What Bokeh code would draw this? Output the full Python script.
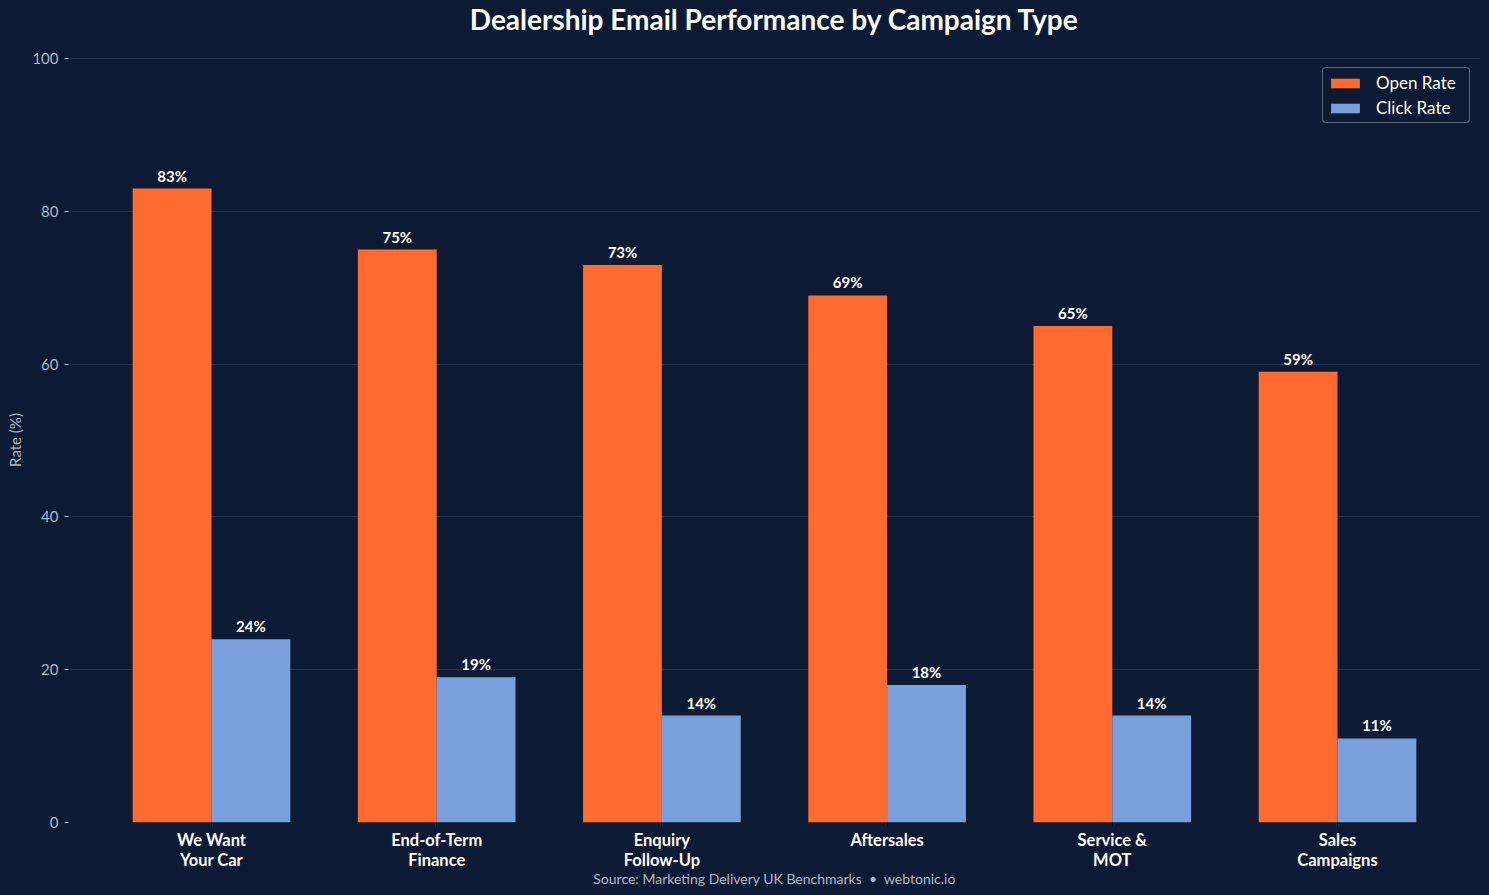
from bokeh.plotting import figure
from bokeh.models import ColumnDataSource, Range1d, FixedTicker, Legend, LegendItem, LabelSet, Title
from bokeh.core.properties import value
from bokeh.embed import file_html
from bokeh.resources import INLINE

categories = ["We Want\nYour Car", "End-of-Term\nFinance", "Enquiry\nFollow-Up", "Aftersales", "Service &\nMOT", "Sales\nCampaigns"]
open_rate = [83, 75, 73, 69, 65, 59]
click_rate = [24, 19, 14, 18, 14, 11]
y_ticks = [0, 20, 40, 60, 80, 100]

BG = "#0c1b33"
ORANGE = "#ff6b2e"
BLUE = "#7aa0db"
FONT = "Lato"
W = 0.35

idx = list(range(len(categories)))
src_o = ColumnDataSource(dict(x=[i - W / 2 for i in idx], y=open_rate, lab=[f"{v}%" for v in open_rate]))
src_c = ColumnDataSource(dict(x=[i + W / 2 for i in idx], y=click_rate, lab=[f"{v}%" for v in click_rate]))

p = figure(width=1489, height=895, output_backend="svg", toolbar_location=None,
           x_range=Range1d(-0.635, 5.635), y_range=Range1d(0, 100.15),
           background_fill_color=BG, border_fill_color=BG,
           min_border_left=68, min_border_right=9, min_border_top=57, min_border_bottom=73)
p.outline_line_color = None
p.outline_line_alpha = 0
p.styles = {"background-color": BG}

p.title.text = "Dealership Email Performance by Campaign Type"
p.title.align = "center"
p.title.vertical_align = "top"
p.title.text_font = FONT
p.title.text_font_size = "28px"
p.title.text_font_style = "bold"
p.title.text_color = "#ffffff"
p.title.standoff = 0

# spacer between title and plot frame
p.add_layout(Title(text=" ", text_font_size="10px", standoff=7, text_color=BG), "above")

r_o = p.vbar(x="x", top="y", width=W, source=src_o, fill_color=ORANGE, line_color=None)
r_c = p.vbar(x="x", top="y", width=W, source=src_c, fill_color=BLUE, line_color=None)

for s in (src_o, src_c):
    p.add_layout(LabelSet(x="x", y="y", text="lab", source=s, text_align="center", text_baseline="bottom",
                          y_offset=4, text_font=value(FONT), text_font_size=value("15px"),
                          text_font_style="bold", text_color="#ffffff"))

# axes
p.xaxis.ticker = FixedTicker(ticks=idx)
p.xaxis.major_label_overrides = {i: c for i, c in enumerate(categories)}
p.xaxis.major_label_text_font = FONT
p.xaxis.major_label_text_font_size = "16.5px"
p.xaxis.major_label_text_font_style = "bold"
p.xaxis.major_label_text_color = "#ffffff"
p.xaxis.major_label_text_line_height = 1.0
p.xaxis.axis_line_color = None
p.xaxis.major_tick_line_color = "#000000"
p.xaxis.major_tick_out = 4
p.xaxis.major_tick_in = 0
p.xaxis.minor_tick_line_color = None
p.xaxis.major_label_standoff = 3

p.yaxis.ticker = FixedTicker(ticks=y_ticks)
p.yaxis.axis_label = "Rate (%)"
p.yaxis.axis_label_text_font = FONT
p.yaxis.axis_label_text_font_size = "15px"
p.yaxis.axis_label_text_font_style = "normal"
p.yaxis.axis_label_text_color = "#aeb8c6"
p.yaxis.axis_label_standoff = 5
p.yaxis.major_label_text_font = FONT
p.yaxis.major_label_text_font_size = "15px"
p.yaxis.major_label_text_color = "#aeb8c6"
p.yaxis.axis_line_color = None
p.yaxis.major_tick_line_color = "#aeb8c6"
p.yaxis.major_tick_out = 4
p.yaxis.major_tick_in = 0
p.yaxis.minor_tick_line_color = None
p.yaxis.major_label_standoff = 6

p.xgrid.grid_line_color = None
p.ygrid.grid_line_color = "#22324c"
p.ygrid.grid_line_width = 1

legend = Legend(items=[LegendItem(label="Open Rate", renderers=[r_o]),
                       LegendItem(label="Click Rate", renderers=[r_c])],
                location="top_right")
legend.background_fill_color = BG
legend.background_fill_alpha = 0.9
legend.border_line_color = "#a8b0bc"
legend.border_line_width = 1.2
legend.border_radius = 4
legend.label_text_font = FONT
legend.label_text_font_size = "17px"
legend.label_text_color = "#ffffff"
legend.glyph_width = 36
legend.glyph_height = 12
legend.label_height = 18
legend.label_width = 89
legend.label_standoff = 13
legend.spacing = 4
legend.padding = 4
legend.margin = 10
p.add_layout(legend)

src_title = Title(text="Source: Marketing Delivery UK Benchmarks\u00a0\u00a0\u2022\u00a0\u00a0webtonic.io", align="center",
                  vertical_align="top",
                  text_font=FONT, text_font_size="14px", text_font_style="normal",
                  text_color="#aeb8c6", standoff=-6)
p.add_layout(src_title, "below")

open("out.html", "w").write(file_html(p, INLINE))
